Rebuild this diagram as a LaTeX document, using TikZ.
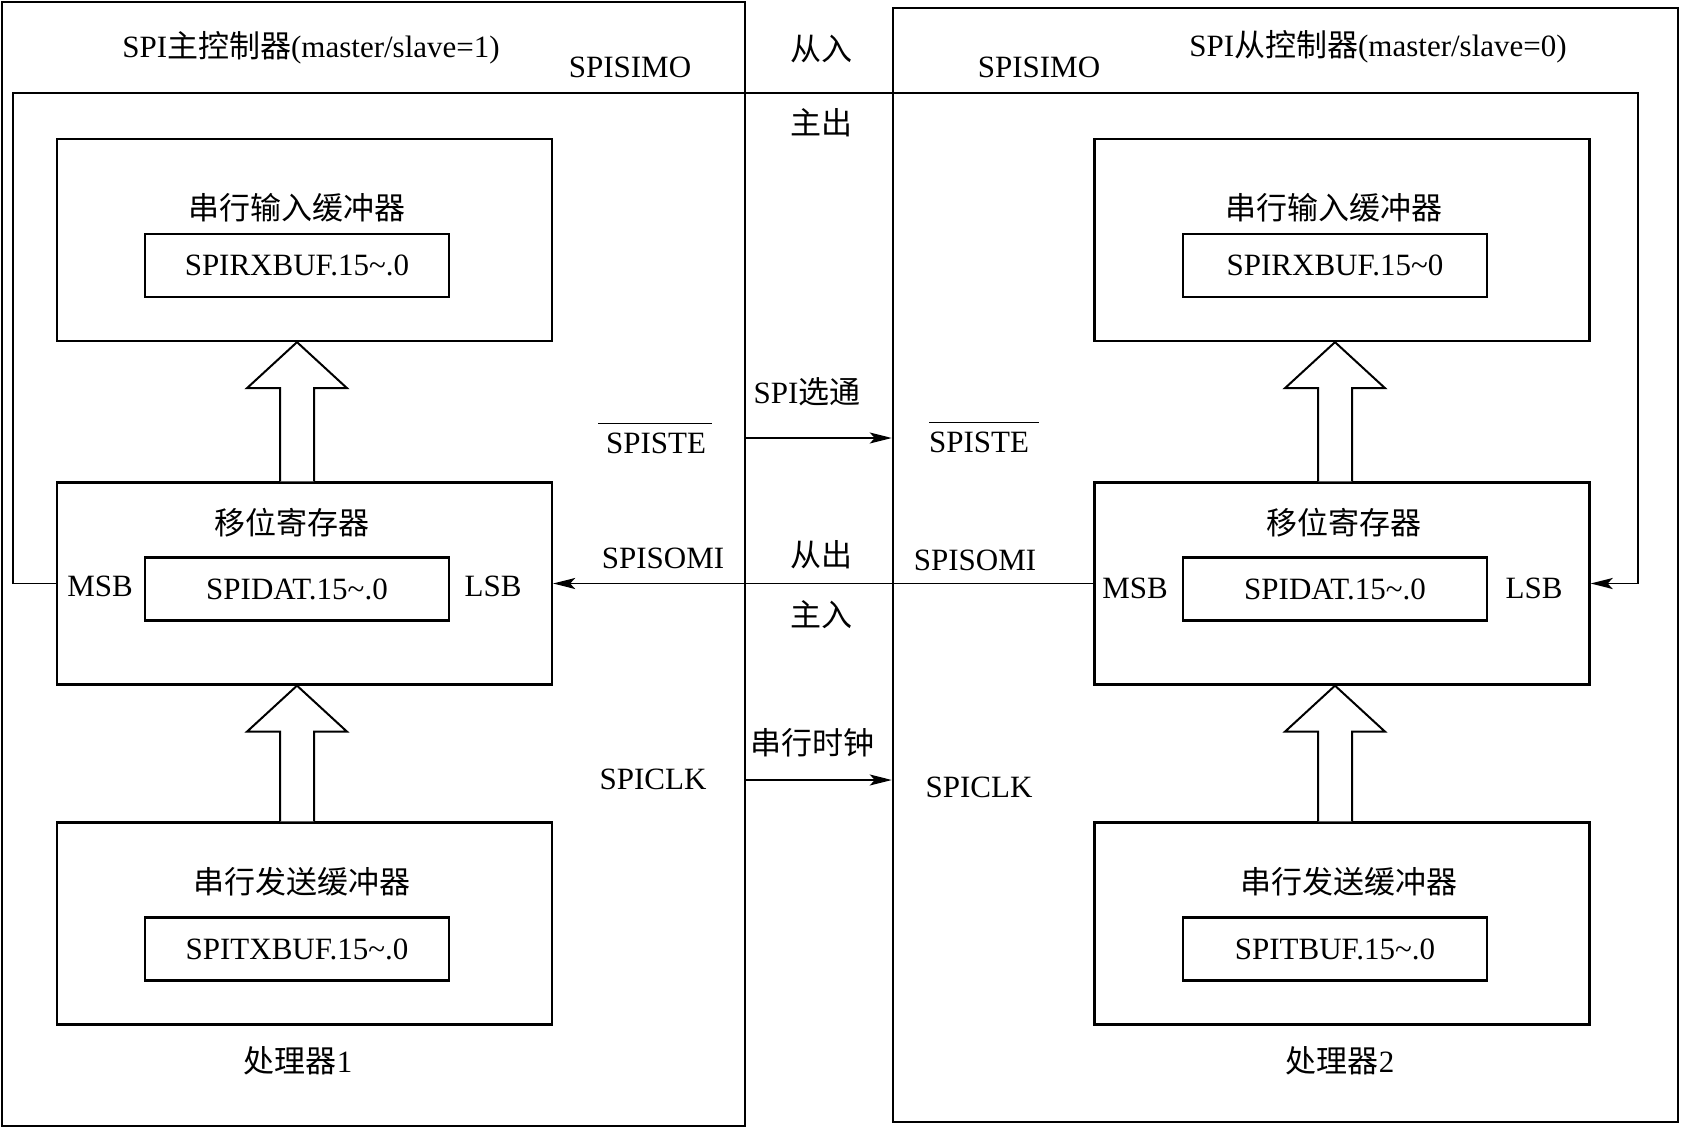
\documentclass[tikz,border=0pt]{standalone}
\usepackage{fontspec}
\setmainfont{Liberation Serif}
\newfontfamily\cjk{Noto Sans CJK SC}
\usepackage{tikz}
\usetikzlibrary{positioning,arrows.meta,calc}
\newcommand{\zh}[1]{{\cjk #1}}
\newcommand{\tld}{\textasciitilde}
\newcommand{\hollowup}[2]{% #1 base, #2 tip
  \draw[hollow] ($(#1)+(-17,0)$) -- ($(#2)+(-17,46)$) -- ($(#2)+(-50,46)$) -- (#2)
    -- ($(#2)+(50,46)$) -- ($(#2)+(17,46)$) -- ($(#1)+(17,0)$);}

\begin{document}
\begin{tikzpicture}[x=0.5pt, y=-0.5pt, font=\fontsize{15.5}{18}\selectfont]
    % Define styles
    \tikzstyle{ctrl} = [rectangle, draw, line width=1.25pt, inner sep=0pt]
    \tikzstyle{buffer} = [rectangle, draw, line width=1.15pt, minimum width=247.5pt, minimum height=101pt, inner sep=0pt]
    \tikzstyle{reg} = [rectangle, draw, line width=1.05pt, minimum width=152pt, minimum height=31.5pt, inner sep=0pt]
    \tikzstyle{txt} = [inner sep=1pt]
    \tikzstyle{wire} = [line width=0.95pt]
    \tikzstyle{tip} = [-{Stealth[length=11pt,width=5.5pt,inset=2.5pt]}]
    \tikzstyle{hollow} = [line width=1pt, fill=white]

    \useasboundingbox (0,0) rectangle (1682,1129);

    % Controllers
    \node [ctrl, minimum width=371.5pt, minimum height=562pt] (master) at (373.5,564) {};
    \node [ctrl, minimum width=392.5pt, minimum height=557pt] (slave) at (1285.5,565) {};
    \node [txt] (mtitle) at (311,48) {SPI\zh{主控制器}(master/slave=1)};
    \node [txt] (stitle) at (1378,47) {SPI\zh{从控制器}(master/slave=0)};

    % Master side
    \node [buffer] (rxbufL) at (304.5,240) {};
    \node [buffer] (shiftL) at (304.5,583.5) {};
    \node [buffer] (txbufL) at (304.5,923.5) {};
    \node [reg] (rxinL) at (297,265.5) {SPIRXBUF.15\tld.0};
    \node [reg] (datL) at (297,589) {SPIDAT.15\tld.0};
    \node [reg] (txinL) at (297,949) {SPITXBUF.15\tld.0};
    \node [txt] (rxtitleL) at (297,208) {\zh{串行输入缓冲器}};
    \node [txt] (shtitleL) at (292,523) {\zh{移位寄存器}};
    \node [txt] (txtitleL) at (302,882) {\zh{串行发送缓冲器}};
    \node [txt] (msbL) at (100,586) {MSB};
    \node [txt] (lsbL) at (493,586) {LSB};
    \node [txt] (proc1) at (298,1061) {\zh{处理器}1};

    % Slave side
    \node [buffer] (rxbufR) at (1342,240) {};
    \node [buffer] (shiftR) at (1342,583.5) {};
    \node [buffer] (txbufR) at (1342,923.5) {};
    \node [reg] (rxinR) at (1335,265.5) {SPIRXBUF.15\tld0};
    \node [reg] (datR) at (1335,589) {SPIDAT.15\tld.0};
    \node [reg] (txinR) at (1335,949) {SPITBUF.15\tld.0};
    \node [txt] (rxtitleR) at (1334,208) {\zh{串行输入缓冲器}};
    \node [txt] (shtitleR) at (1344,523) {\zh{移位寄存器}};
    \node [txt] (txtitleR) at (1349,882) {\zh{串行发送缓冲器}};
    \node [txt] (msbR) at (1135,588) {MSB};
    \node [txt] (lsbR) at (1534,588) {LSB};
    \node [txt] (proc2) at (1340,1061) {\zh{处理器}2};

    % Hollow arrows
    \coordinate (a1) at (rxinL |- shiftL.north); \coordinate (b1) at (rxinL |- rxbufL.south);
    \coordinate (a2) at (rxinL |- txbufL.north); \coordinate (b2) at (rxinL |- shiftL.south);
    \coordinate (a3) at (rxinR |- shiftR.north); \coordinate (b3) at (rxinR |- rxbufR.south);
    \coordinate (a4) at (rxinR |- txbufR.north); \coordinate (b4) at (rxinR |- shiftR.south);
    \hollowup{a1}{b1}
    \hollowup{a2}{b2}
    \hollowup{a3}{b3}
    \hollowup{a4}{b4}

    % Signal labels
    \node [txt] (simoL) at (630,67) {SPISIMO};
    \node [txt] (simoR) at (1039,67) {SPISIMO};
    \node [txt] (simoIn) at (821,49) {\zh{从入}};
    \node [txt] (simoOut) at (821,123) {\zh{主出}};
    \node [txt] (steTitle) at (807,392) {SPI\zh{选通}};
    \node [txt, anchor=base] (steL) at (655,453) {$\overline{\mbox{\rule{0pt}{13.5pt}\hspace{4pt}SPISTE\hspace{3pt}}}$};
    \node [txt, anchor=base] (steR) at (984,452) {$\overline{\mbox{\rule{0pt}{13.5pt}SPISTE\hspace{5pt}}}$};
    \node [txt] (somiL) at (663,558) {SPISOMI};
    \node [txt] (somiR) at (975,560) {SPISOMI};
    \node [txt] (somiOut) at (821,555) {\zh{从出}};
    \node [txt] (somiIn) at (821,615) {\zh{主入}};
    \node [txt] (clkTitle) at (812,743) {\zh{串行时钟}};
    \node [txt] (clkL) at (653,779) {SPICLK};
    \node [txt] (clkR) at (979,787) {SPICLK};

    % Connections
    \coordinate (simoTL) at (13,93);
    \coordinate (simoTR) at (1638,93);
    \draw [wire, tip] (shiftL.west) -| (simoTL) -- (simoTR) |- (shiftR.east);
    \draw [wire, tip] (shiftR.west) -- (shiftL.east);
    \draw [wire, tip] (master.east |- 0,438) -- (slave.west |- 0,438);
    \draw [wire, tip] (master.east |- 0,780) -- (slave.west |- 0,780);
\end{tikzpicture}
\end{document}
